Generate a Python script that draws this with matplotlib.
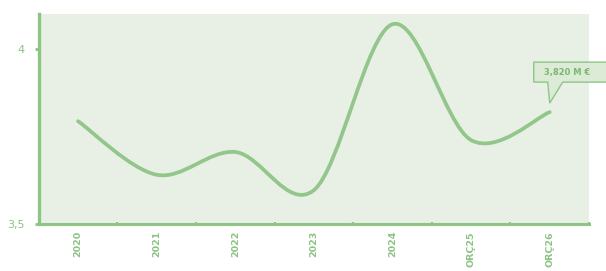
import matplotlib.pyplot as plt
import numpy as np
from matplotlib.path import Path
from matplotlib.patches import PathPatch, Polygon
from matplotlib.transforms import ScaledTranslation

years = ["2020", "2021", "2022", "2023", "2024", "ORÇ25", "ORÇ26"]
values = [3.794, 3.641, 3.706, 3.597, 4.071, 3.740, 3.820]
last_label = "3,820 M €"

GREEN = "#8ec585"
LINE = "#93c68b"
BG = "#e8f0e5"
TXT = "#8cc384"


def smooth_path(xs, ys):
    # bezier segments through the points (like a spreadsheet "smoothed line")
    pts = list(zip(xs, ys))
    n = len(pts)
    verts = [pts[0]]
    codes = [Path.MOVETO]
    for i in range(n - 1):
        p0 = pts[max(i - 1, 0)]
        p1 = pts[i]
        p2 = pts[i + 1]
        p3 = pts[min(i + 2, n - 1)]
        c1 = (p1[0] + (p2[0] - p0[0]) / 6, p1[1] + (p2[1] - p0[1]) / 6)
        c2 = (p2[0] - (p3[0] - p1[0]) / 6, p2[1] - (p3[1] - p1[1]) / 6)
        verts += [c1, c2, p2]
        codes += [Path.CURVE4] * 3
    return Path(verts, codes)


fig = plt.figure(figsize=(6.06, 2.71), dpi=100)
ax = fig.add_axes([0.064, 0.173, 0.908, 0.775])
ax.set_facecolor(BG)

x = np.arange(len(years))
ax.add_patch(PathPatch(smooth_path(x, values), fill=False, edgecolor=LINE,
                       lw=2.7, capstyle="round", zorder=3))

ax.set_xlim(-0.5, len(years) - 0.5)
ax.set_ylim(3.5, 4.1)

ax.set_yticks([3.5, 4.0])
ax.set_yticklabels(["3,5", "4"])
ax.set_xticks(x)
ax.set_xticklabels(years, rotation=90, fontweight="bold")
ax.set_xticks(np.arange(len(years) + 1) - 0.5, minor=True)

ax.tick_params(axis="x", which="major", length=0, pad=5, labelsize=6.8, labelcolor=TXT)
ax.tick_params(axis="x", which="minor", length=3, width=1.5, direction="inout", color=GREEN)
ax.tick_params(axis="y", length=3, width=2, color=GREEN, pad=7, labelsize=8, labelcolor=TXT)

for side in ["top", "right"]:
    ax.spines[side].set_visible(False)
ax.spines["left"].set_color(GREEN)
ax.spines["left"].set_linewidth(2.4)
ax.spines["bottom"].set_color(GREEN)
ax.spines["bottom"].set_linewidth(2.2)

# callout on the last point, offsets in inches from the data point
tr = fig.dpi_scale_trans + ScaledTranslation(x[-1], values[-1], ax.transData)
box = [(-0.16, 0.50), (0.60, 0.50), (0.60, 0.30), (0.13, 0.30),
       (0.00, 0.09), (-0.02, 0.30), (-0.16, 0.30)]
ax.add_patch(Polygon(box, closed=True, transform=tr, facecolor="#dcebd6",
                     edgecolor=GREEN, lw=1.0, clip_on=False, zorder=4))
ax.text(0.17, 0.40, last_label, transform=tr, ha="center", va="center",
        fontsize=6, fontweight="bold", color="#79b86e", zorder=5)

fig.savefig("out.png", dpi=100)
